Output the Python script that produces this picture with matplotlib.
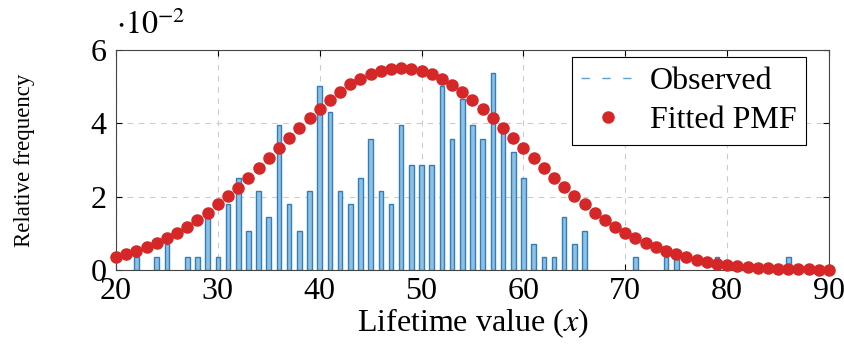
import numpy as np
import matplotlib
matplotlib.use("Agg")
import matplotlib.pyplot as plt
from matplotlib.lines import Line2D

plt.rcParams['font.family'] = ['Liberation Serif', 'DejaVu Serif']
plt.rcParams['mathtext.fontset'] = 'stix'

# observed counts per lifetime value
obs_x = [22, 24, 25, 27, 28, 29, 30, 31, 32, 33, 34, 35, 36, 37, 38, 39, 40, 41,
         42, 43, 44, 45, 46, 47, 48, 49, 50, 51, 52, 53, 54, 55, 56, 57, 58, 59,
         60, 61, 62, 63, 64, 65, 66, 71, 74, 75, 79, 86]
obs_counts = [1, 1, 2, 1, 1, 4, 1, 5, 7, 3, 6, 4, 11, 5, 3, 6, 14, 12,
              6, 5, 7, 10, 6, 5, 11, 8, 8, 8, 14, 10, 13, 11, 10, 15, 11, 9,
              7, 2, 1, 1, 4, 2, 3, 1, 1, 1, 1, 1]

# fitted pmf (x 20..90), in units of 1e-2
pmf_x = list(range(20, 91))
pmf_y = [0.35, 0.44, 0.52, 0.62, 0.73, 0.86, 1.02, 1.18, 1.36, 1.56,
         1.79, 2.02, 2.25, 2.51, 2.77, 3.05, 3.32, 3.59, 3.88, 4.14,
         4.39, 4.64, 4.86, 5.06, 5.21, 5.35, 5.44, 5.48, 5.50, 5.48,
         5.44, 5.34, 5.20, 5.05, 4.86, 4.64, 4.40, 4.14, 3.86, 3.61,
         3.34, 3.05, 2.77, 2.52, 2.26, 2.02, 1.79, 1.56, 1.36, 1.18,
         1.02, 0.86, 0.73, 0.62, 0.52, 0.44, 0.35, 0.27, 0.22, 0.17,
         0.14, 0.11, 0.08, 0.06, 0.05, 0.04, 0.03, 0.02, 0.02, 0.01, 0.01]

total = sum(obs_counts)
obs_y = [100.0 * c / total for c in obs_counts]

fig = plt.figure(figsize=(8.45, 3.47), dpi=100)
ax = fig.add_axes([116 / 845, 1 - 270 / 347, (829 - 116) / 845, (270 - 50) / 347])

ax.bar(obs_x, obs_y, width=0.45, color='#8fc0e2', edgecolor='#2f7fc0',
       linewidth=1.0, zorder=2)
ax.plot(pmf_x, pmf_y, 'o', color='#d62728', markersize=8, zorder=3,
        clip_on=False)

ax.set_xlim(20, 90)
ax.set_ylim(0, 6)
ax.set_xticks(range(20, 91, 10))
ax.set_yticks([0, 2, 4, 6])
ax.tick_params(direction='in', top=True, right=True, labelsize=23, length=4)
ax.tick_params(axis='x', pad=5)
ax.tick_params(axis='y', pad=7)
ax.grid(True, linestyle=(0, (5, 5)), color='#cccccc', linewidth=0.8, zorder=0)
ax.set_axisbelow(True)
for s in ax.spines.values():
    s.set_linewidth(0.8)
    s.set_color('#444444')

ax.set_xlabel('Lifetime value ($x$)', fontsize=23, labelpad=0)
ax.set_ylabel('Relative frequency', fontsize=16.5, labelpad=40)
ax.text(0.0, 1.04, r'$\cdot10^{-2}$', transform=ax.transAxes, fontsize=23,
        ha='left', va='bottom')

handles = [Line2D([], [], color='#5fa0d0', linestyle=(0, (6, 9)), linewidth=1),
           Line2D([], [], color='#d62728', marker='o', linestyle='none',
                  markersize=8)]
leg = ax.legend(handles, ['Observed', 'Fitted PMF'], loc='upper right',
                bbox_to_anchor=(0.968, 0.968), borderaxespad=0, fontsize=23,
                fancybox=False, framealpha=1, edgecolor='black', borderpad=0.3,
                labelspacing=0.3, handlelength=1.7, handletextpad=0.45)
leg.get_frame().set_linewidth(0.8)

fig.savefig('out.png', dpi=100)
